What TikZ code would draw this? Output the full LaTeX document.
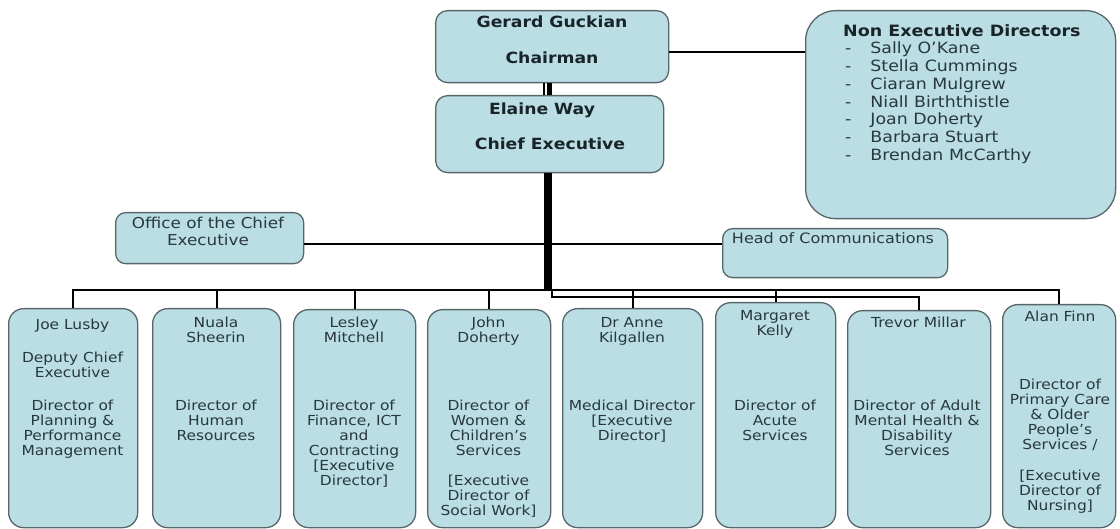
\documentclass[tikz,border=0pt]{standalone}
\usepackage{fontspec}
\setmainfont{DejaVu Sans}[FakeStretch=1.12]
\definecolor{boxfill}{RGB}{186,222,228}
\definecolor{boxline}{RGB}{88,102,105}
\definecolor{ink}{RGB}{40,56,62}
\definecolor{inkdark}{RGB}{25,36,40}
% centred lines whose baseline is that of the first line
\newcommand\cellstack[1]{\begin{tabular}[t]{@{}c@{}}#1\end{tabular}}
\begin{document}
\begin{tikzpicture}[x=1pt,y=-1pt,
  box/.style={draw=boxline, fill=boxfill, line width=1.3pt, inner sep=0pt,
    anchor=north west, rounded corners=#1},
  box/.default=15pt,
  txt/.style={text=ink, inner sep=0pt, anchor=base,
    font=\fontsize{13.8}{15}\selectfont},
  head/.style={text=inkdark, inner sep=0pt, anchor=base,
    font=\bfseries\fontsize{15.4}{16}\selectfont},
  conn/.style={draw=black, line width=2.2pt},
  spine/.style={draw=black, line width=8.5pt}
]
\useasboundingbox (0,0) rectangle (1120,529);

% --- top level boxes ---
\node[box=12pt, minimum width=233pt, minimum height=72pt] (chair) at (435,10) {};
\node[box=12pt, minimum width=228pt, minimum height=77pt] (ce) at (435,95) {};
\node[box=30pt, minimum width=310pt, minimum height=208pt] (ned) at (805,10) {};
\node[box=10pt, minimum width=188pt, minimum height=51pt] (office) at (115,212) {};
\node[box=10pt, minimum width=225pt, minimum height=49pt] (comms) at (722,228) {};

% --- directors ---
\node[box, minimum width=129pt, minimum height=219pt] (joe) at (8,308) {};
\node[box, minimum width=128pt, minimum height=219pt] (nuala) at (152,308) {};
\node[box, minimum width=122pt, minimum height=218pt] (lesley) at (293,309) {};
\node[box, minimum width=123pt, minimum height=218pt] (john) at (427,309) {};
\node[box, minimum width=140pt, minimum height=219pt] (anne) at (562,308) {};
\node[box, minimum width=120pt, minimum height=225pt] (margaret) at (715,302) {};
\node[box, minimum width=143pt, minimum height=217pt] (trevor) at (847,310) {};
\node[box, minimum width=113pt, minimum height=223pt] (alan) at (1002,304) {};

% --- texts of the top boxes ---
\node[head] (chair-a) at (552,28) {Gerard Guckian};
\node[head] (chair-b) at (552,64) {Chairman};
\node[head] (ce-a) at (542,115) {Elaine Way};
\node[head] (ce-b) at (550,150) {Chief Executive};

\node[head, anchor=base west, font=\bfseries\fontsize{15.6}{17}\selectfont]
  (ned-title) at (843,37) {Non Executive Directors};
\node[anchor=base west, inner sep=0pt, text=ink, font=\fontsize{15.5}{17.7}\selectfont]
  (ned-list) at (845,54) {%
  \begin{tabular}[t]{@{}l@{\hspace{19pt}}l@{}}
  - & Sally O’Kane\\
  - & Stella Cummings\\
  - & Ciaran Mulgrew\\
  - & Niall Birththistle\\
  - & Joan Doherty\\
  - & Barbara Stuart\\
  - & Brendan McCarthy
  \end{tabular}};

\node[txt, font=\fontsize{15}{17}\selectfont] (office-t) at (208,229)
  {\cellstack{Office of the Chief\\Executive}};
\node[txt, font=\fontsize{14.3}{16}\selectfont] (comms-t) at (833,244)
  {Head of Communications};

% --- texts of the director boxes ---
\node[txt] (joe-a) at (72.5,330) {Joe Lusby};
\node[txt] (joe-b) at (72.5,363) {\cellstack{Deputy Chief\\Executive}};
\node[txt] (joe-c) at (72.5,411)
  {\cellstack{Director of\\Planning \&\\Performance\\Management}};

\node[txt] (nuala-a) at (216,328) {\cellstack{Nuala\\Sheerin}};
\node[txt] (nuala-b) at (216,411) {\cellstack{Director of\\Human\\Resources}};

\node[txt] (lesley-a) at (354,328) {\cellstack{Lesley\\Mitchell}};
\node[txt] (lesley-b) at (354,411)
  {\cellstack{Director of\\Finance, ICT\\and\\Contracting\\{[}Executive\\Director{]}}};

\node[txt] (john-a) at (488.5,328) {\cellstack{John\\Doherty}};
\node[txt] (john-b) at (488.5,411)
  {\cellstack{Director of\\Women \&\\Children’s\\Services}};
\node[txt] (john-c) at (488.5,485)
  {\cellstack{{[}Executive\\Director of\\Social Work{]}}};

\node[txt] (anne-a) at (632,328) {\cellstack{Dr Anne\\Kilgallen}};
\node[txt] (anne-b) at (632,411)
  {\cellstack{Medical Director\\{[}Executive\\Director{]}}};

\node[txt] (margaret-a) at (775,321) {\cellstack{Margaret\\Kelly}};
\node[txt] (margaret-b) at (775,411) {\cellstack{Director of\\Acute\\Services}};

\node[txt] (trevor-a) at (918.5,328) {Trevor Millar};
\node[txt] (trevor-b) at (917,411)
  {\cellstack{Director of Adult\\Mental Health \&\\Disability\\Services}};

\node[txt] (alan-a) at (1060,322) {Alan Finn};
\node[txt] (alan-b) at (1060,390)
  {\cellstack{Director of\\Primary Care\\\& Older\\People’s\\Services /}};
\node[txt] (alan-c) at (1060,480)
  {\cellstack{{[}Executive\\Director of\\Nursing{]}}};

% --- connectors ---
\coordinate (hub) at (548,290);
\coordinate (hubr) at (552,290);
\coordinate (hublow) at (552,297);
\coordinate (dl) at (543.5,0);
\coordinate (dr) at (549.5,0);
\coordinate (nedrow) at (0,52);
\coordinate (midrow) at (0,244);

% chairman to chief executive: double link
\draw[line width=2pt] (chair.south -| dl) -- (ce.north -| dl);
\draw[line width=4.5pt] (chair.south -| dr) -- (ce.north -| dr);

% chairman to the non executive directors
\draw[conn] (chair.east |- nedrow) -- (ned.west |- nedrow);

% office and communications
\draw[conn] (office.east |- midrow) -- (comms.west |- midrow);

% left bus
\draw[conn] (hub) -| (joe.north);
\draw[conn] (nuala.north |- hub) -- (nuala.north);
\draw[conn] (lesley.north |- hub) -- (lesley.north);
\draw[conn] (john.north |- hub) -- (john.north);

% right buses
\draw[conn] (hub) -| (alan.north);
\draw[conn] (anne.north |- hub) -- (anne.north);
\draw[conn] (margaret.north |- hub) -- (margaret.north);
\draw[conn] (hubr) -- (hublow) -| (trevor.north);

% main spine from the chief executive
\draw[spine] (ce.south -| hub) -- ([yshift=1pt]hub);
\end{tikzpicture}
\end{document}
